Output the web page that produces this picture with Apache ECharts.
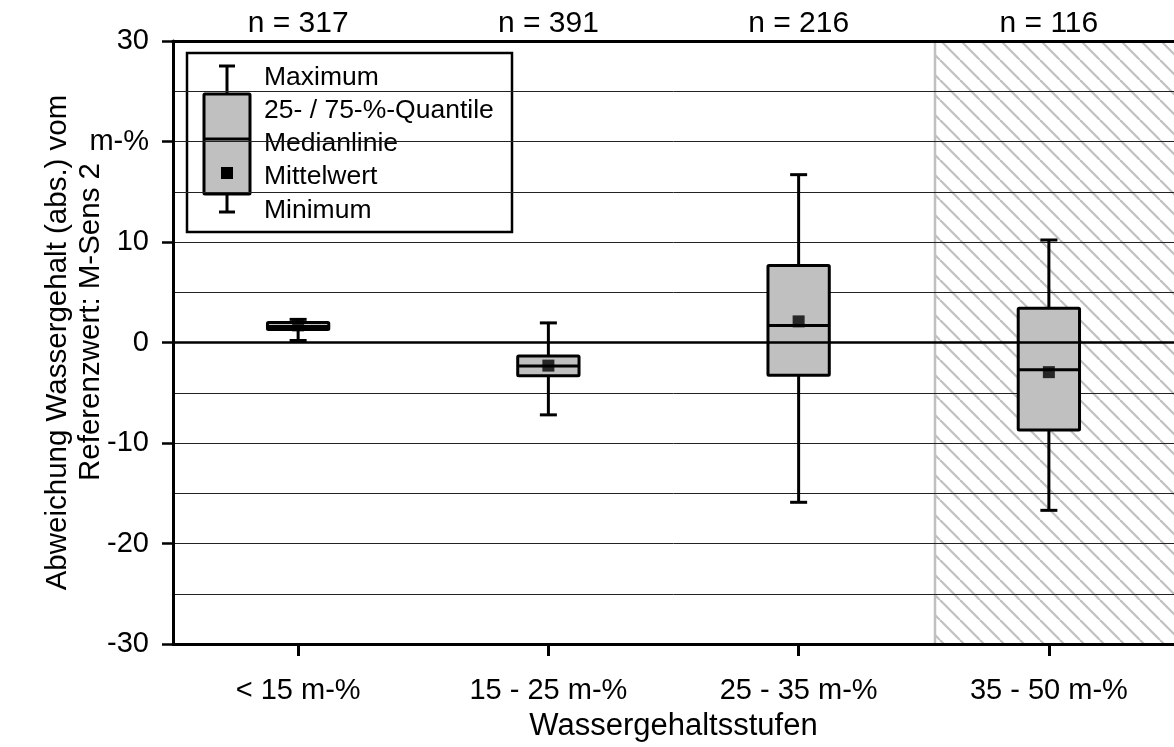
<!DOCTYPE html>
<html>
<head>
<meta charset="utf-8">
<script src="https://cdn.jsdelivr.net/npm/echarts@6/dist/echarts.min.js"></script>
<style>
html,body{margin:0;padding:0;background:#fff;}
#chart{width:1174px;height:747px;}
</style>
</head>
<body>
<div id="chart"></div>
<script>
// ---- data ----
const categories = ['< 15 m-%', '15 - 25 m-%', '25 - 35 m-%', '35 - 50 m-%'];
const sampleCounts = [317, 391, 216, 116];
const minimum   = [0.2, -7.2, -15.9, -16.7];
const quartile1 = [1.3, -3.3, -3.25, -8.7];
const median    = [1.6, -2.35, 1.7, -2.7];
const quartile3 = [2.0, -1.35, 7.65, 3.4];
const maximum   = [2.3, 1.95, 16.7, 10.2];
const mean      = [1.7, -2.3, 2.1, -2.95];
const yMin = -30, yMax = 30, yInterval = 10;
const hatchRange = [2.545, 3.5]; // in category-index units
const legendLabels = ['Maximum', '25- / 75-%-Quantile', 'Medianlinie', 'Mittelwert', 'Minimum'];
const nLabels = sampleCounts.map(n => 'n = ' + n);
const yTitle1 = 'Abweichung Wassergehalt (abs.) vom';
const yTitle2 = 'Referenzwert: M-Sens 2';

const FONT = 'Liberation Sans, Arial, sans-serif';

// hatch pattern
const pat = document.createElement('canvas');
pat.width = 20; pat.height = 20;
const pc = pat.getContext('2d');
pc.strokeStyle = '#c0c0c0';
pc.lineWidth = 2.2;
for (let k = -1; k <= 1; k++) {
  pc.beginPath();
  pc.moveTo(k * 20, 0);
  pc.lineTo(k * 20 + 20, 20);
  pc.stroke();
}

const chart = echarts.init(document.getElementById('chart'), null, {renderer: 'canvas'});

const boxData = categories.map((c, i) => [i, minimum[i], quartile1[i], median[i], quartile3[i], maximum[i]]);
const meanData = categories.map((c, i) => [i, mean[i]]);

function renderBox(params, api) {
  const i = api.value(0);
  const x = api.coord([i, 0])[0];
  const band = api.size([1, 0])[0];
  const bw = band * 0.245;
  const cw = band * 0.068;
  const yMn = api.coord([i, api.value(1)])[1];
  const yQ1 = api.coord([i, api.value(2)])[1];
  const yMd = api.coord([i, api.value(3)])[1];
  const yQ3 = api.coord([i, api.value(4)])[1];
  const yMx = api.coord([i, api.value(5)])[1];
  const st = {stroke: '#000', lineWidth: 3};
  return {
    type: 'group',
    children: [
      {type: 'line', shape: {x1: x, y1: yMx, x2: x, y2: yQ3}, style: st},
      {type: 'line', shape: {x1: x, y1: yQ1, x2: x, y2: yMn}, style: st},
      {type: 'line', shape: {x1: x - cw / 2, y1: yMx, x2: x + cw / 2, y2: yMx}, style: st},
      {type: 'line', shape: {x1: x - cw / 2, y1: yMn, x2: x + cw / 2, y2: yMn}, style: st},
      {type: 'rect', shape: {x: x - bw / 2, y: yQ3, width: bw, height: yQ1 - yQ3, r: 1},
        style: {fill: '#c0c0c0', stroke: '#000', lineWidth: 3}},
      {type: 'line', shape: {x1: x - bw / 2, y1: yMd, x2: x + bw / 2, y2: yMd}, style: st}
    ]
  };
}

function renderHatch(params, api) {
  const p0 = api.coord([api.value(0), yMax]);
  const p1 = api.coord([api.value(1), yMin]);
  return {
    type: 'group',
    children: [
      {type: 'rect', shape: {x: p0[0], y: p0[1], width: p1[0] - p0[0], height: p1[1] - p0[1]},
        style: {fill: {image: pat, repeat: 'repeat'}}},
      {type: 'line', shape: {x1: p0[0], y1: p0[1], x2: p0[0], y2: p1[1]},
        style: {stroke: '#c0c0c0', lineWidth: 2.5}}
    ]
  };
}

const legendGraphic = {
  type: 'group', z: 100,
  children: [
    {type: 'rect', shape: {x: 187, y: 53, width: 325, height: 179}, style: {fill: '#fff', stroke: '#000', lineWidth: 2.5}},
    {type: 'line', shape: {x1: 227, y1: 66, x2: 227, y2: 94}, style: {stroke: '#000', lineWidth: 3}},
    {type: 'line', shape: {x1: 219, y1: 66, x2: 235, y2: 66}, style: {stroke: '#000', lineWidth: 3}},
    {type: 'rect', shape: {x: 204, y: 94, width: 46, height: 100, r: 1}, style: {fill: '#c0c0c0', stroke: '#000', lineWidth: 3}},
    {type: 'line', shape: {x1: 204, y1: 139, x2: 250, y2: 139}, style: {stroke: '#000', lineWidth: 3}},
    {type: 'rect', shape: {x: 221, y: 167, width: 12, height: 12}, style: {fill: '#000'}},
    {type: 'line', shape: {x1: 227, y1: 194, x2: 227, y2: 212}, style: {stroke: '#000', lineWidth: 3}},
    {type: 'line', shape: {x1: 219, y1: 212, x2: 235, y2: 212}, style: {stroke: '#000', lineWidth: 3}}
  ].concat(legendLabels.map((t, k) => ({
    type: 'text', x: 264, y: [78, 111, 144, 177, 211][k],
    style: {text: t, fill: '#000', font: '26.5px ' + FONT, verticalAlign: 'middle', align: 'left'}
  })))
};

const yTitle2Graphic = {
  type: 'text', x: 91, y: 322, rotation: Math.PI / 2, z: 50,
  style: {text: yTitle2, fill: '#000', font: '29.5px ' + FONT, align: 'center', verticalAlign: 'middle'}
};

const option = {
  animation: false,
  backgroundColor: '#fff',
  textStyle: {fontFamily: FONT},
  grid: {left: 173, right: -5, top: 41, bottom: 102, containLabel: false},
  xAxis: [
    {
      type: 'category', data: categories, position: 'bottom',
      axisLine: {onZero: false, lineStyle: {color: '#000', width: 3}},
      axisTick: {show: true, alignWithLabel: true, length: 12, lineStyle: {color: '#000', width: 3}},
      axisLabel: {color: '#000', fontSize: 29, fontFamily: FONT, margin: 32},
      splitLine: {show: false},
      name: 'Wassergehaltsstufen', nameLocation: 'middle', nameGap: 67, nameMoveOverlap: false,
      nameTextStyle: {color: '#000', fontSize: 31, fontFamily: FONT}
    },
    {
      type: 'category', data: nLabels, position: 'top',
      axisLine: {onZero: false, lineStyle: {color: '#000', width: 3}},
      axisTick: {show: false},
      axisLabel: {color: '#000', fontSize: 30, fontFamily: FONT, margin: 2},
      splitLine: {show: false}
    },
    {
      type: 'value', min: -0.5, max: 3.5, show: false, position: 'bottom',
      axisLine: {onZero: false},
      splitLine: {show: false}
    }
  ],
  yAxis: [{
    type: 'value', min: yMin, max: yMax, interval: yInterval,
    axisLine: {show: true, onZero: false, lineStyle: {color: '#000', width: 3}},
    axisTick: {show: true, length: 11, lineStyle: {color: '#000', width: 2.5}},
    axisLabel: {color: '#000', fontSize: 29, fontFamily: FONT, margin: 24,
      formatter: v => (v === 20 ? 'm-%' : String(v))},
    splitLine: {show: true, lineStyle: {color: '#222', width: 1}},
    minorTick: {show: false, splitNumber: 2},
    minorSplitLine: {show: true, lineStyle: {color: '#222', width: 1}},
    name: yTitle1,
    nameLocation: 'middle', nameRotate: 90, nameGap: 100, nameMoveOverlap: false,
    nameTextStyle: {color: '#000', fontSize: 29.5, fontFamily: FONT, align: 'center'}
  }],
  series: [
    {
      type: 'custom', name: 'hatch', xAxisIndex: 2, yAxisIndex: 0, z: -1,
      renderItem: renderHatch, data: [hatchRange], silent: true, clip: true
    },
    {
      type: 'custom', name: 'box', xAxisIndex: 0, yAxisIndex: 0, z: 3,
      renderItem: renderBox, data: boxData,
      encode: {x: 0, y: [1, 2, 3, 4, 5]}, silent: true
    },
    {
      type: 'scatter', name: 'Mittelwert', xAxisIndex: 0, yAxisIndex: 0, z: 5,
      data: meanData, symbol: 'rect', symbolSize: 12,
      itemStyle: {color: '#000'}, silent: true,
      markLine: {
        silent: true, symbol: 'none', label: {show: false},
        lineStyle: {color: '#000', width: 2.5, type: 'solid'},
        data: [{yAxis: 0}]
      }
    }
  ],
  graphic: [legendGraphic, yTitle2Graphic]
};
chart.setOption(option);
</script>
</body>
</html>
